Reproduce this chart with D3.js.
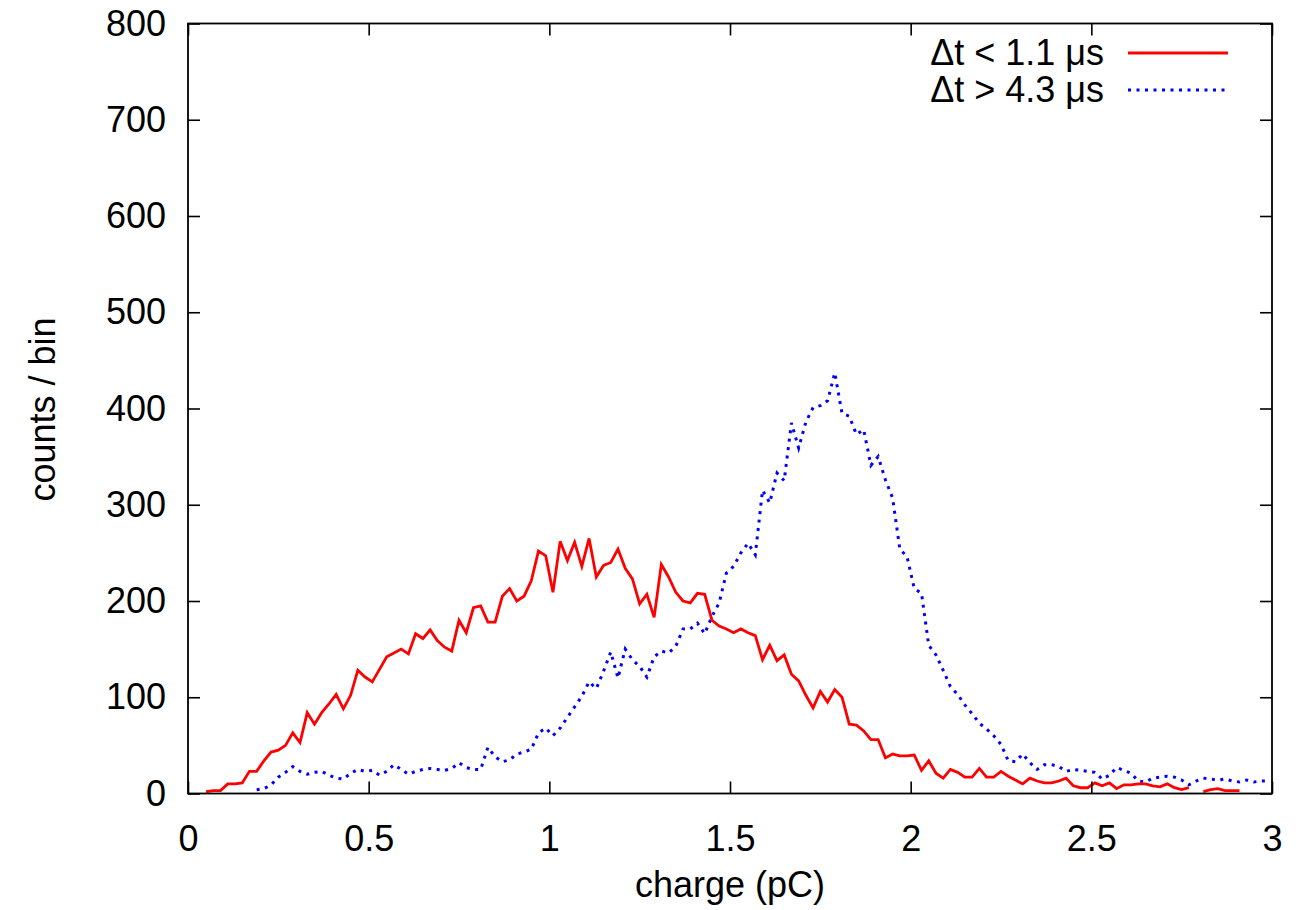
<!DOCTYPE html>
<html>
<head>
<meta charset="utf-8">
<script src="https://cdn.jsdelivr.net/npm/d3@7"></script>
<style>
  body { margin: 0; background: white; }
  text { font-family: "Liberation Sans", Arial, Helvetica, sans-serif; fill: black; }
</style>
</head>
<body>
<div id="screen"></div>
<script>
// bin width 0.02 pC, bin centers at odd hundredths
var binWidth = 0.02
var redStart = 0.05
var blueStart = 0.19

// dt < 1.1 us (null = empty bin)
var redCounts = [
    2, 3, 3, 10, 10, 11, 23, 23, 34, 43,
    45, 50, 63, 53, 84, 72, 84, 93, 103, 88,
    102, 128, 121, 116, 129, 142, 146, 150, 145, 166,
    161, 170, 159, 152, 148, 180, 167, 193, 195, 178,
    178, 205, 213, 200, 205, 221, 252, 247, 209, 262,
    242, 261, 236, 265, 225, 237, 240, 254, 234, 223,
    197, 207, 183, 238, 225, 209, 200, 198, 208, 207,
    180, 174, 171, 167, 171, 167, 164, 139, 154, 138,
    144, 124, 117, 102, 89, 106, 95, 108, 100, 72,
    71, 65, 56, 56, 37, 41, 39, 39, 40, 24,
    34, 21, 16, 25, 22, 17, 17, 26, 17, 17,
    23, 18, 14, 10, 16, 13, 11, 11, 13, 16,
    8, 6, 6, 11, 8, 11, 5, 9, 9, 10,
    10, 8, 7, 10, 6, 4, 6, null, 2, 4,
    5, 3, 3, 3
]

// dt > 4.3 us
var blueCounts = [
    4, 5, 9, 17, 22, 28, 23, 20, 22, 23,
    19, 16, 15, 21, 25, 23, 24, 19, 23, 30,
    25, 20, 23, 25, 26, 25, 24, 26, 32, 27,
    25, 25, 48, 38, 33, 35, 41, 43, 46, 63,
    68, 60, 68, 79, 90, 101, 116, 109, 127, 147,
    120, 150, 139, 132, 121, 142, 148, 146, 153, 171,
    171, 177, 166, 184, 198, 229, 236, 250, 260, 248,
    315, 302, 333, 325, 385, 359, 386, 401, 403, 408,
    437, 395, 392, 373, 378, 341, 350, 326, 307, 254,
    246, 213, 208, 154, 144, 128, 111, 103, 92, 83,
    73, 67, 60, 51, 34, 33, 41, 32, 25, 30,
    30, 28, 23, 25, 24, 23, 22, 15, 19, 27,
    24, 21, 13, 12, 16, 17, 18, 17, 14, 9,
    13, 16, 15, 14, 15, 13, 12, 14, 12, 13,
    13
]

var xTicks = [0, 0.5, 1, 1.5, 2, 2.5, 3]
var yTicks = [0, 100, 200, 300, 400, 500, 600, 700, 800]
var seriesLabels = ['\u0394t < 1.1 \u03bcs', '\u0394t > 4.3 \u03bcs']

function toPoints(start, counts)
{
    return counts.map(function(c, i) {
        return { x: start + i * binWidth, y: c }
    })
}

function drawChart()
{
    var width = 1309, height = 910
    var left = 188, right = 1272, top = 23.5, bottom = 793.5
    var tickLen = 12

    var svg = d3.select('#screen').append('svg')
        .attr('width', width)
        .attr('height', height)

    var x = d3.scaleLinear().domain([0, 3]).range([left, right])
    var y = d3.scaleLinear().domain([0, 800]).range([bottom, top])

    svg.append('defs').append('clipPath')
        .attr('id', 'plot-clip')
        .append('rect')
        .attr('x', left).attr('y', top)
        .attr('width', right - left).attr('height', bottom - top)

    var line = d3.line()
        .defined(function(d) { return d.y !== null })
        .x(function(d) { return x(d.x) })
        .y(function(d) { return y(d.y) })

    var plot = svg.append('g').attr('clip-path', 'url(#plot-clip)')

    plot.append('path')
        .datum(toPoints(blueStart, blueCounts))
        .attr('d', line)
        .style('fill', 'none')
        .style('stroke', '#0000ff')
        .style('stroke-width', 3)
        .style('stroke-dasharray', '3 5.5')

    plot.append('path')
        .datum(toPoints(redStart, redCounts))
        .attr('d', line)
        .style('fill', 'none')
        .style('stroke', '#ff0000')
        .style('stroke-width', 2.8)
        .style('stroke-linejoin', 'miter')

    // axes: inward ticks, mirrored on top and right
    var fontSize = '36px'
    var axisStyle = function(g) {
        g.select('.domain').remove()
        g.selectAll('.tick line').style('stroke', 'black').style('stroke-width', 1.6)
        g.selectAll('.tick text').style('font-size', fontSize).style('fill', 'black')
    }

    svg.append('g')
        .attr('transform', 'translate(0,' + bottom + ')')
        .call(d3.axisBottom(x).tickValues(xTicks).tickSizeInner(-tickLen).tickPadding(21)
            .tickFormat(d3.format('')))
        .call(axisStyle)
        .selectAll('.tick text').attr('dy', '1.02em')

    svg.append('g')
        .attr('transform', 'translate(0,' + top + ')')
        .call(d3.axisTop(x).tickValues(xTicks).tickSizeInner(-tickLen).tickFormat(''))
        .call(axisStyle)

    svg.append('g')
        .attr('transform', 'translate(' + left + ',0)')
        .call(d3.axisLeft(y).tickValues(yTicks).tickSizeInner(-tickLen).tickPadding(22))
        .call(axisStyle)

    svg.append('g')
        .attr('transform', 'translate(' + right + ',0)')
        .call(d3.axisRight(y).tickValues(yTicks).tickSizeInner(-tickLen).tickFormat(''))
        .call(axisStyle)

    svg.append('rect')
        .attr('x', left).attr('y', top)
        .attr('width', right - left).attr('height', bottom - top)
        .style('fill', 'none')
        .style('stroke', 'black')
        .style('stroke-width', 1.8)

    svg.append('text')
        .attr('x', (left + right) / 2)
        .attr('y', 897)
        .attr('text-anchor', 'middle')
        .style('font-size', fontSize)
        .text('charge (pC)')

    svg.append('text')
        .attr('transform', 'translate(55,' + ((top + bottom) / 2 + 1) + ') rotate(-90)')
        .attr('text-anchor', 'middle')
        .style('font-size', fontSize)
        .text('counts / bin')

    // legend
    var legend = svg.append('g')
    var legendRows = [
        { label: seriesLabels[0], y: 53, color: '#ff0000', dash: null, w: 2.8 },
        { label: seriesLabels[1], y: 90, color: '#0000ff', dash: '3 5.5', w: 3 }
    ]
    legendRows.forEach(function(r) {
        legend.append('text')
            .attr('x', 1104)
            .attr('y', r.y + 12)
            .attr('text-anchor', 'end')
            .style('font-size', fontSize)
            .text(r.label)
        legend.append('line')
            .attr('x1', 1128).attr('x2', 1228)
            .attr('y1', r.y).attr('y2', r.y)
            .style('stroke', r.color)
            .style('stroke-width', r.w)
            .style('stroke-dasharray', r.dash)
    })
}

drawChart()
</script>
</body>
</html>
